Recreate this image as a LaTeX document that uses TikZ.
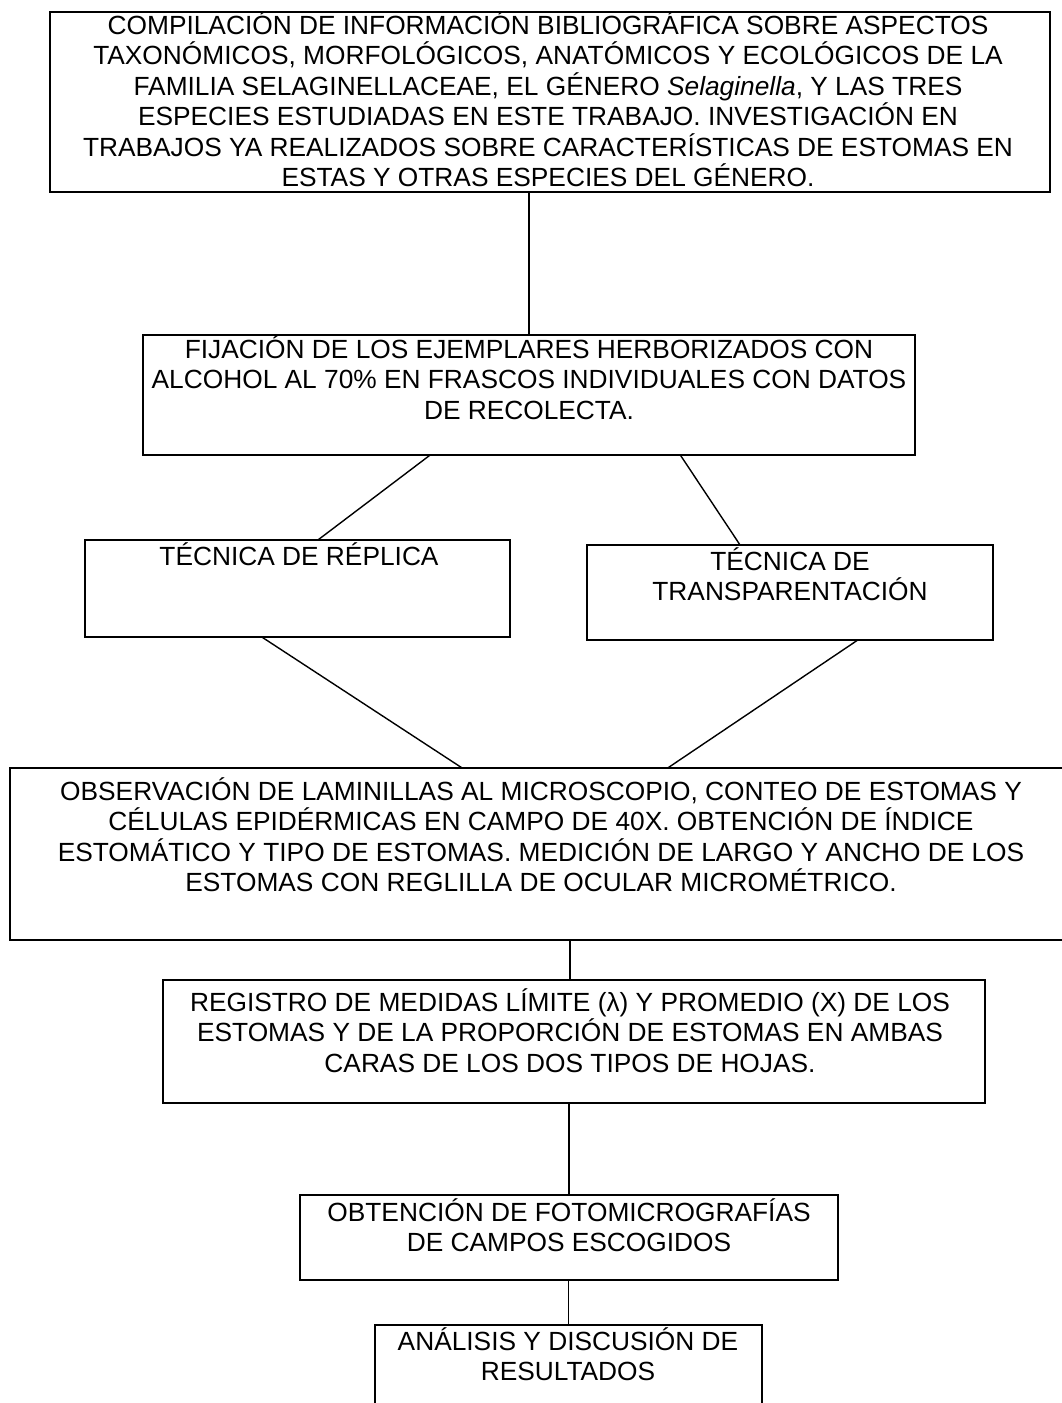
\documentclass[tikz,border=0pt]{standalone}
\usepackage{fontspec}
\setmainfont{Liberation Sans}
\usetikzlibrary{calc}
\begin{document}
\begin{tikzpicture}[x=1pt,y=-1pt,
  box/.style={draw,line width=1.6pt,inner sep=0pt,outer sep=0pt},
  txt/.style={anchor=north,align=center,inner sep=0pt,font=\fontsize{26.3}{30.5}\selectfont},
  conn/.style={line width=1.4pt}]
\useasboundingbox (0,0) rectangle (1062,1403);
\clip (0,0) rectangle (1062,1403);
% boxes
\node[box,minimum width=1000pt,minimum height=180pt] (b1) at (550,102) {};
\node[box,minimum width=772pt,minimum height=120pt] (b2) at (529,395) {};
\node[box,minimum width=425pt,minimum height=97pt] (b3) at (297.5,588.5) {};
\node[box,minimum width=406pt,minimum height=95pt] (b4) at (790,592.5) {};
\node[box,minimum width=1054pt,minimum height=172pt] (b5) at (537,854) {};
\node[box,minimum width=822pt,minimum height=123pt] (b6) at (574,1041.5) {};
\node[box,minimum width=538pt,minimum height=85pt] (b7) at (569,1237.5) {};
\node[box,minimum width=387pt,minimum height=95pt] (b8) at (568.5,1372.5) {};
% texts
\node[txt] (t1) at (548,11) {COMPILACIÓN DE INFORMACIÓN BIBLIOGRÁFICA SOBRE ASPECTOS\\TAXONÓMICOS, MORFOLÓGICOS, ANATÓMICOS Y ECOLÓGICOS DE LA\\FAMILIA SELAGINELLACEAE, EL GÉNERO \textit{Selaginella}, Y LAS TRES\\ESPECIES ESTUDIADAS EN ESTE TRABAJO. INVESTIGACIÓN EN\\TRABAJOS YA REALIZADOS SOBRE CARACTERÍSTICAS DE ESTOMAS EN\\ESTAS Y OTRAS ESPECIES DEL GÉNERO.};
\node[txt] (t2) at (529,335) {FIJACIÓN DE LOS EJEMPLARES HERBORIZADOS CON\\ALCOHOL AL 70\% EN FRASCOS INDIVIDUALES CON DATOS\\DE RECOLECTA.};
\node[txt] (t3) at (299,542) {TÉCNICA DE RÉPLICA};
\node[txt] (t4) at (790,547) {TÉCNICA DE\\TRANSPARENTACIÓN};
\node[txt] (t5) at (541,777) {OBSERVACIÓN DE LAMINILLAS AL MICROSCOPIO, CONTEO DE ESTOMAS Y\\CÉLULAS EPIDÉRMICAS EN CAMPO DE 40X. OBTENCIÓN DE ÍNDICE\\ESTOMÁTICO Y TIPO DE ESTOMAS. MEDICIÓN DE LARGO Y ANCHO DE LOS\\ESTOMAS CON REGLILLA DE OCULAR MICROMÉTRICO.};
\node[txt] (t6) at (570,988) {REGISTRO DE MEDIDAS LÍMITE (λ) Y PROMEDIO (X) DE LOS\\ESTOMAS Y DE LA PROPORCIÓN DE ESTOMAS EN AMBAS\\CARAS DE LOS DOS TIPOS DE HOJAS.};
\node[txt] (t7) at (569,1198) {OBTENCIÓN DE FOTOMICROGRAFÍAS\\DE CAMPOS ESCOGIDOS};
\node[txt] (t8) at (568,1327) {ANÁLISIS Y DISCUSIÓN DE\\RESULTADOS};
% connectors
\coordinate (c6) at ($(b6.north west)!0.495!(b6.north east)$);
\draw[conn] (b2.north |- b1.south) -- (b2.north);
\draw[conn] ($(b2.south west)!0.372!(b2.south east)$) -- ($(b3.north west)!0.548!(b3.north east)$);
\draw[conn] ($(b2.south west)!0.696!(b2.south east)$) -- ($(b4.north west)!0.377!(b4.north east)$);
\draw[conn] ($(b3.south west)!0.416!(b3.south east)$) -- ($(b5.north west)!0.429!(b5.north east)$);
\draw[conn] ($(b4.south west)!0.667!(b4.south east)$) -- ($(b5.north west)!0.624!(b5.north east)$);
\draw[conn] (c6 |- b5.south) -- (c6);
\draw[conn] (b7.north |- b6.south) -- (b7.north);
\draw[conn] (b8.north |- b7.south) -- (b8.north);
\end{tikzpicture}
\end{document}
